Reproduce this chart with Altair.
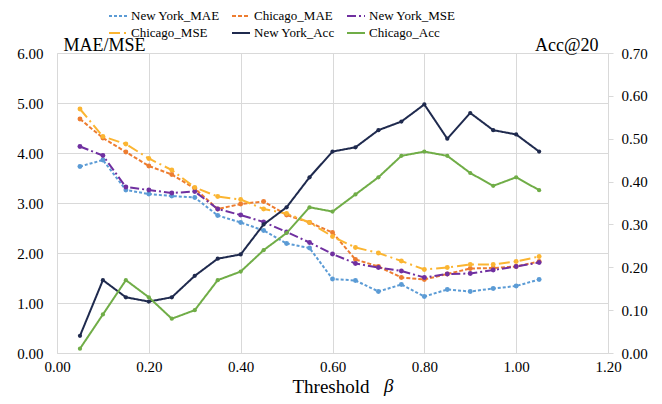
import altair as alt
import pandas as pd

thresholds = [0.05, 0.10, 0.15, 0.20, 0.25, 0.30, 0.35, 0.40, 0.45, 0.50, 0.55,
              0.60, 0.65, 0.70, 0.75, 0.80, 0.85, 0.90, 0.95, 1.00, 1.05]

ny_mae = [3.73, 3.86, 3.26, 3.18, 3.14, 3.11, 2.75, 2.61, 2.45, 2.19, 2.10,
          1.48, 1.45, 1.23, 1.37, 1.13, 1.27, 1.23, 1.29, 1.34, 1.47]
chi_mae = [4.68, 4.30, 4.02, 3.74, 3.57, 3.29, 2.88, 2.98, 3.03, 2.76, 2.61,
           2.41, 1.87, 1.73, 1.51, 1.47, 1.58, 1.69, 1.70, 1.73, 1.83]
ny_mse = [4.13, 3.95, 3.32, 3.26, 3.20, 3.23, 2.88, 2.76, 2.62, 2.42, 2.21,
          1.98, 1.79, 1.71, 1.64, 1.51, 1.58, 1.59, 1.66, 1.73, 1.81]
chi_mse = [4.88, 4.33, 4.18, 3.89, 3.66, 3.31, 3.13, 3.07, 2.88, 2.79, 2.61,
           2.33, 2.11, 2.00, 1.84, 1.67, 1.71, 1.77, 1.77, 1.83, 1.93]
ny_acc = [0.04, 0.17, 0.13, 0.12, 0.13, 0.18, 0.22, 0.23, 0.30, 0.34, 0.41,
          0.47, 0.48, 0.52, 0.54, 0.58, 0.50, 0.56, 0.52, 0.51, 0.47]
chi_acc = [0.01, 0.09, 0.17, 0.13, 0.08, 0.10, 0.17, 0.19, 0.24, 0.28, 0.34,
           0.33, 0.37, 0.41, 0.46, 0.47, 0.46, 0.42, 0.39, 0.41, 0.38]

series_names = ["New York_MAE", "Chicago_MAE", "New York_MSE",
                "Chicago_MSE", "New York_Acc", "Chicago_Acc"]
series_colors = ["#5B9BD5", "#ED7D31", "#7030A0", "#FBB532", "#1F2A4E", "#70AD47"]
series_dashes = [[3, 2], [4, 2], [9, 3, 2, 3], [11, 4, 2, 4], [1, 0], [1, 0]]

x_ticks = [0.0, 0.2, 0.4, 0.6, 0.8, 1.0, 1.2]
left_ticks = [0, 1, 2, 3, 4, 5, 6]
right_ticks = [0.0, 0.1, 0.2, 0.3, 0.4, 0.5, 0.6, 0.7]

FONT = "Liberation Serif"


def long_df(pairs):
    rows = []
    for name, vals in pairs:
        for x, v in zip(thresholds, vals):
            rows.append({"x": x, "v": v, "series": name})
    return pd.DataFrame(rows)


left_df = long_df([("New York_MAE", ny_mae), ("Chicago_MAE", chi_mae),
                   ("New York_MSE", ny_mse), ("Chicago_MSE", chi_mse)])
right_df = long_df([("New York_Acc", ny_acc), ("Chicago_Acc", chi_acc)])

legend = alt.Legend(
    title=None, orient="none", legendX=51, legendY=-47, columns=3,
    direction="horizontal",
    symbolType="stroke", symbolSize=324, symbolStrokeWidth=2,
    labelFont=FONT, labelFontSize=13, labelColor="#000",
    columnPadding=8, rowPadding=0, labelOffset=3,
)

color = alt.Color("series:N", scale=alt.Scale(domain=series_names, range=series_colors),
                  legend=legend)
dash = alt.StrokeDash("series:N", scale=alt.Scale(domain=series_names, range=series_dashes),
                      legend=legend)

x_enc = alt.X("x:Q", scale=alt.Scale(domain=[0, 1.2], nice=False),
              axis=alt.Axis(values=x_ticks, format=".2f", title="Threshold",
                            titleFont=FONT, titleFontSize=19, titleFontWeight="normal",
                            titleAlign="left", titleBaseline="alphabetic",
                            titleX=235, titleY=39, ticks=False, labelPadding=6,
                            labelFlush=False, grid=True))

y_left = alt.Y("v:Q", scale=alt.Scale(domain=[0, 6], nice=False),
               axis=alt.Axis(values=left_ticks, format=".2f", title="MAE/MSE",
                             titleAngle=0, titleFont=FONT, titleFontSize=18,
                             titleFontWeight="normal", titleAlign="left",
                             titleBaseline="alphabetic", titleX=6, titleY=-3,
                             ticks=False, labelPadding=14, labelFlush=False, grid=True))

y_right = alt.Y("v:Q", scale=alt.Scale(domain=[0, 0.7], nice=False),
                axis=alt.Axis(values=right_ticks, format=".2f", title="Acc@20",
                              orient="right", titleAngle=0, titleFont=FONT,
                              titleFontSize=18, titleFontWeight="normal",
                              titleAlign="right", titleBaseline="alphabetic",
                              titleX=-10, titleY=-3, ticks=True, tickSize=5,
                              labelPadding=8, labelFlush=False, grid=False))

left_base = alt.Chart(left_df).encode(x=x_enc, y=y_left, color=color)
left_layer = alt.layer(
    left_base.mark_line(strokeWidth=2).encode(strokeDash=dash),
    left_base.mark_point(filled=True, size=24, opacity=1),
)

right_base = alt.Chart(right_df).encode(x=x_enc, y=y_right, color=color)
right_layer = alt.layer(
    right_base.mark_line(strokeWidth=2).encode(strokeDash=dash),
    right_base.mark_point(filled=True, size=18, opacity=1),
)

beta = alt.Chart(pd.DataFrame({"t": ["β"]})).mark_text(
    font=FONT, fontStyle="italic", fontSize=19, align="left", baseline="alphabetic",
    color="#000"
).encode(x=alt.value(327), y=alt.value(339), text="t:N")

chart = alt.layer(left_layer, right_layer, beta).resolve_scale(
    y="independent"
).properties(
    width=551, height=300,
    autosize=alt.AutoSizeParams(type="none"),
    padding={"left": 49, "top": 45, "right": 46, "bottom": 43},
).configure_view(strokeWidth=0).configure_axis(
    labelFont=FONT, labelFontSize=15, labelColor="#000",
    gridColor="#D9D9D9", domainColor="#D9D9D9", tickColor="#D9D9D9",
    titleColor="#000",
).configure_legend(
    labelFont=FONT, labelFontSize=13, labelColor="#000",
)

chart.save("out.html", embed_options={"renderer": "svg", "actions": False})
